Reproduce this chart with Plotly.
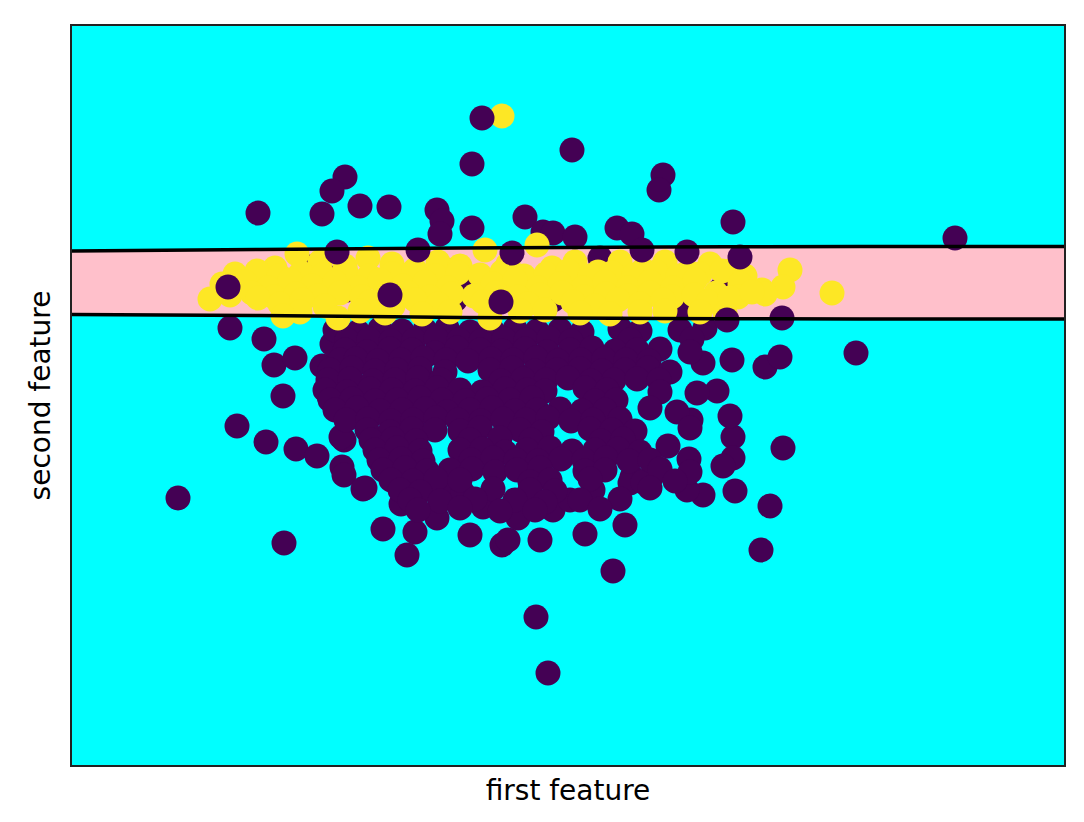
import plotly.graph_objects as go

# ---- decision boundary (two level curves of the classifier) ----
boundary_x = [-4.88, -3.0, -1.0, 1.0, 3.0, 5.04]
boundary_upper = [1.99, 2.005, 2.02, 2.03, 2.035, 2.035]
boundary_lower = [1.355, 1.345, 1.325, 1.315, 1.31, 1.31]

# ---- class 0 (drawn first) ----
class0_x = [
    -0.88, 0.12, 1.03, 0.99, -2.15, -2.28, -3.02, -2.38, -2.00, -1.71, -1.23, -1.18, -1.20, -0.88,
    -0.35, -0.17, -0.07, 0.15, 0.57, 0.72, 1.73, 3.95,
    -2.50, -2.33, -2.13, -1.15, -0.90, -0.07, 0.40, -1.05, 1.20, 1.60,
    -3.30, -2.96, -2.86, -2.65, -2.77, -3.23, -2.94, -2.64, -2.43, -2.18, -2.16, -3.82, -2.76, -1.95,
    -1.77, -1.45, -1.53, -1.59, -1.23, -0.90, -0.58, -0.52, -0.20, 0.25, 0.65, 0.53, -0.24, -0.12,
    2.01, 2.10, 1.75, 1.43, 1.27, 0.92, 0.72, 2.23, 1.73, 1.70, 1.73, 1.63, 1.29, 1.08, 1.31, 1.57,
    1.37, 1.17, 2.05, 2.20, 1.72, 1.43, 2.96, -2.31, -2.38, -2.28, -2.19, -2.16, -1.97, -1.17, -0.97,
    -0.77, -0.42, -0.07, 0.10, 0.33, 0.70, 0.83,
    -2.25, -2.02, -1.80, -1.58, -1.35, -1.13, -0.90, -0.68, -0.45, -0.23, 0.00, 0.22, 0.60, 0.80, 1.20, 1.45,
    -2.13, -1.91, -1.69, -1.46, -1.24, -1.01, -0.79, -0.56, -0.34, -0.11, 0.11, 0.70, 1.32,
    -2.15, -1.93, -1.70, -1.48, -1.25, -1.03, -0.80, -0.58, -0.35, -0.13, 0.10, 0.32, 0.55, 0.77, 1.00, 1.30,
    -2.20, -2.04, -1.82, -1.59, -1.37, -1.14, -0.92, -0.69, -0.47, -0.24, -0.02, 0.21, 0.44, 0.66, 0.89,
    -2.30, -2.08, -1.85, -1.63, -1.40, -1.15, -0.70, -0.48, -0.25, -0.03, 0.20, 0.42, 0.65, 0.88, 1.10,
    -2.32, -2.10, -1.87, -1.65, -1.42, -1.19, -0.59, -0.37, -0.14, 0.08, 0.31, 0.54, 0.77, 0.99,
    -2.35, -2.13, -1.90, -1.68, -1.45, -1.23, -1.00, -0.78, -0.55, -0.33, -0.15, 0.25, 0.47, 1.00,
    -2.30, -2.08, -1.85, -1.63, -1.40, -1.18, -0.95, -0.73, -0.50, -0.28, 0.35, 0.56,
    -2.25, -2.03, -1.80, -1.58, -1.35, -1.13, -0.90, -0.68, -0.45, -0.23, 0.00, 0.22, 0.45, 0.90,
    -2.14, -1.92, -1.69, -1.47, -1.24, -1.02, -0.79, -0.57, -0.34, -0.12, 0.11, 0.33, 0.60,
    -1.93, -1.70, -1.48, -1.25, -1.00, -0.80, -0.40, -0.18, 0.30, 0.52, 0.75, 1.30,
    -1.89, -1.67, -1.44, -0.90, -0.60, -0.29, 0.41, 0.63,
    -1.85, -1.63, -1.40, -1.00, -0.78, -0.55, -0.33, -0.10, 0.12, 0.35, 0.58, 0.80,
    -1.81, -1.59, -1.37, -0.89, -0.67, -0.44, -0.22, 0.01, 0.24, 0.46, 0.69, 0.90,
    -1.77, -1.55, -1.33, -1.10, -0.88, -0.65, -0.43, -0.20, 0.25, 0.45, 1.00, 1.30,
    -1.69, -1.47, -1.24, -1.00, -0.30, -0.10, 0.30, 1.15,
    -1.60, -1.40, -0.67, -0.30, -0.05, 0.90,
    -1.50, -1.20, -0.85, -0.45, -0.15, 0.20, 0.60,
    -1.42, -1.00, -0.60, -0.25, 0.40,
]
class0_y = [
    2.86, 3.00, 2.75, 2.60, 2.73, 2.59, 2.37, 2.36, 2.44, 2.43, 2.40, 2.29, 2.16, 2.22,
    2.33, 2.18, 2.17, 2.13, 2.22, 2.16, 2.28, 2.12,
    1.83, 1.73, 1.60, 1.80, 1.68, 1.50, 1.92, 1.50, 1.40, 1.60,
    1.22, 1.11, 0.85, 0.92, 0.54, 0.24, 0.08, 0.01, -0.06, -0.17, 0.10, -0.48, -0.93, -0.38,
    -0.79, -0.82, -1.05, -0.54, -0.68, -0.85, -0.95, -0.90, -0.90, -0.84, -0.75, -1.21, -1.67, -2.23,
    -1.00, -0.56, -0.41, -0.45, -0.40, -0.26, -0.27, 0.02, 0.13, 0.34, -0.08, -0.16, -0.09, 0.04, 0.30, 0.59,
    0.57, 0.38, 0.83, 0.93, 0.90, 0.87, 0.97, 0.54, 0.84, 1.06, 0.13, -0.25, -0.39, -0.40, -0.43,
    -0.57, -0.68, -0.60, -0.50, -0.40, -0.33, -0.32,
    1.20, 1.18, 1.21, 1.19, 1.20, 1.22, 1.18, 1.20, 1.21, 1.19, 1.20, 1.18, 1.21, 1.19, 1.20, 1.22,
    1.10, 1.11, 1.09, 1.10, 1.12, 1.10, 1.09, 1.11, 1.10, 1.12, 1.09, 1.10, 1.11,
    1.00, 0.98, 1.01, 1.00, 0.97, 1.02, 1.00, 0.99, 1.01, 0.98, 1.00, 1.02, 0.99, 1.00, 1.01, 0.98,
    0.90, 0.91, 0.89, 0.90, 0.92, 0.90, 0.89, 0.91, 0.90, 0.92, 0.89, 0.90, 0.91, 0.90, 0.89,
    0.80, 0.82, 0.79, 0.80, 0.81, 0.78, 0.80, 0.82, 0.79, 0.80, 0.81, 0.79, 0.80, 0.82, 0.78,
    0.70, 0.71, 0.69, 0.70, 0.72, 0.70, 0.69, 0.71, 0.70, 0.72, 0.69, 0.70, 0.71, 0.70,
    0.60, 0.58, 0.61, 0.60, 0.59, 0.62, 0.60, 0.58, 0.61, 0.60, 0.59, 0.62, 0.60, 0.58,
    0.50, 0.51, 0.49, 0.50, 0.52, 0.50, 0.49, 0.51, 0.50, 0.52, 0.49, 0.50,
    0.40, 0.42, 0.39, 0.40, 0.41, 0.38, 0.40, 0.42, 0.39, 0.40, 0.41, 0.39, 0.40, 0.42,
    0.30, 0.31, 0.29, 0.30, 0.32, 0.30, 0.29, 0.31, 0.30, 0.32, 0.29, 0.30, 0.31,
    0.20, 0.18, 0.21, 0.20, 0.19, 0.22, 0.20, 0.18, 0.21, 0.20, 0.19, 0.22,
    0.10, 0.11, 0.09, 0.10, 0.12, 0.10, 0.09, 0.11,
    0.00, 0.02, -0.01, 0.00, 0.01, -0.02, 0.00, 0.02, -0.01, 0.00, 0.01, -0.02,
    -0.10, -0.09, -0.11, -0.10, -0.08, -0.10, -0.11, -0.09, -0.10, -0.08, -0.11, -0.10,
    -0.20, -0.18, -0.21, -0.20, -0.19, -0.22, -0.20, -0.18, -0.21, -0.20, -0.19, -0.22,
    -0.30, -0.31, -0.29, -0.30, -0.32, -0.30, -0.29, -0.31,
    -0.40, -0.42, -0.39, -0.40, -0.41, -0.38,
    -0.50, -0.51, -0.49, -0.50, -0.52, -0.50, -0.49,
    -0.60, -0.58, -0.61, -0.60, -0.59,
]

# ---- class 1 ----
class1_x = [
    -2.85, -2.63, -2.40, -2.15, -1.92, -1.68, -1.45, -1.22, -1.00, -0.75, -0.52, -0.23, -0.08, 0.15,
    0.38, 0.60, 0.83, 1.05, 1.28, 1.50, 1.73, 2.30,
    -3.25, -3.03, -2.81, -2.59, -2.37, -2.14, -1.91, -1.68, -1.46, -1.24, -1.02, -0.80, -0.58, -0.36,
    -0.14, 0.08, 0.30, 0.52, 0.74, 0.96, 1.18, 1.40, 1.62, 1.85,
    -3.38, -3.15, -2.92, -2.70, -2.48, -2.25, -2.02, -1.80, -1.57, -1.35, -1.12, -0.67, -0.45, -0.22,
    0.00, 0.23, 0.45, 0.68, 0.90, 1.13, 1.35, 1.80, 2.02, 2.23,
    -3.30, -3.08, -2.86, -2.64, -2.42, -2.20, -1.98, -1.76, -1.52, -1.30, -1.08, -0.86, -0.64, -0.42,
    -0.20, 0.02, 0.24, 0.46, 0.68, 0.90, 1.12, 1.34, 1.56, 1.78, 2.05,
    -3.50, -3.02, -2.80, -2.58, -2.35, -1.90, -1.67, -1.45, -1.22, -0.77, -0.32, 0.13, 0.35, 0.58,
    0.80, 1.03, 1.48, 1.70, 1.92,
    -2.60, -2.00, -1.75, -1.10, -0.40, 0.20, 0.80, 1.05, 1.65,
    -2.77, -2.22, -1.38, -0.70, 2.72, -0.58, -0.15, 0.50, 1.40,
]
class1_y = [
    1.82, 1.96, 1.88, 1.84, 1.92, 1.86, 1.80, 1.88, 1.84, 2.00, 1.86, 2.05, 1.82, 1.88,
    1.78, 1.88, 1.80, 1.88, 1.78, 1.86, 1.80, 1.80,
    1.76, 1.79, 1.74, 1.77, 1.75, 1.78, 1.74, 1.76, 1.79, 1.74, 1.77, 1.75, 1.78, 1.74,
    1.76, 1.79, 1.74, 1.77, 1.75, 1.78, 1.74, 1.76, 1.79, 1.74,
    1.66, 1.68, 1.62, 1.70, 1.64, 1.68, 1.62, 1.70, 1.64, 1.68, 1.62, 1.66, 1.70, 1.62,
    1.66, 1.62, 1.68, 1.62, 1.68, 1.62, 1.70, 1.66, 1.60, 1.63,
    1.55, 1.57, 1.53, 1.56, 1.54, 1.57, 1.53, 1.55, 1.57, 1.53, 1.56, 1.54, 1.57, 1.53,
    1.55, 1.57, 1.53, 1.56, 1.54, 1.57, 1.53, 1.55, 1.57, 1.53, 1.56,
    1.51, 1.52, 1.46, 1.50, 1.44, 1.48, 1.44, 1.50, 1.46, 1.48, 1.46, 1.48, 1.44, 1.50,
    1.46, 1.50, 1.48, 1.52, 1.58,
    1.38, 1.39, 1.37, 1.38, 1.39, 1.37, 1.38, 1.39, 1.37,
    1.34, 1.32, 1.36, 1.32, 1.57, 3.34, 1.40, 1.36, 1.38,
]

# ---- class 0 points plotted after class 1 ----
class0_top_x = [-0.78, -3.32, -1.70, -0.59, -2.23, -1.42, -0.48, 0.82, 1.27, 1.80, 2.22, 1.67]
class0_top_y = [3.32, 1.63, 1.55, 1.48, 1.98, 2.00, 1.97, 2.00, 1.98, 1.93, 1.32, 1.30]

PURPLE = "#440154"
YELLOW = "#fde725"
CYAN = "#00ffff"
PINK = "#ffc0cb"
MSIZE = 25

fig = go.Figure()

# pink region between the two boundary curves
fig.add_trace(go.Scatter(
    x=boundary_x + boundary_x[::-1],
    y=boundary_upper + boundary_lower[::-1],
    fill="toself", fillcolor=PINK, mode="lines", line=dict(width=0),
    hoverinfo="skip", showlegend=False))

fig.add_trace(go.Scatter(x=class0_x, y=class0_y, mode="markers",
                         marker=dict(size=MSIZE, color=PURPLE, line=dict(width=0)),
                         showlegend=False))
fig.add_trace(go.Scatter(x=class1_x, y=class1_y, mode="markers",
                         marker=dict(size=MSIZE, color=YELLOW, line=dict(width=0)),
                         showlegend=False))
fig.add_trace(go.Scatter(x=class0_top_x, y=class0_top_y, mode="markers",
                         marker=dict(size=MSIZE, color=PURPLE, line=dict(width=0)),
                         showlegend=False))

# boundary lines
for yy in (boundary_upper, boundary_lower):
    fig.add_trace(go.Scatter(x=boundary_x, y=yy, mode="lines",
                             line=dict(color="black", width=3.5, shape="spline"),
                             hoverinfo="skip", showlegend=False))

axis_common = dict(showticklabels=False, ticks="", showgrid=False, zeroline=False,
                   showline=True, linecolor="#222222", linewidth=2, mirror=True)

fig.update_layout(
    width=1076, height=814,
    margin=dict(l=64, r=20, t=18, b=57),
    paper_bgcolor="white", plot_bgcolor=CYAN,
    font=dict(family="DejaVu Sans", size=23.5, color="black"),
    xaxis=dict(range=[-4.88, 5.04],
               title=dict(text="first feature", standoff=14), **axis_common),
    yaxis=dict(range=[-3.15, 4.24],
               title=dict(text="second feature", standoff=11), **axis_common),
    showlegend=False, hovermode=False,
)

fig.write_html("out.html", config={"displayModeBar": False})
